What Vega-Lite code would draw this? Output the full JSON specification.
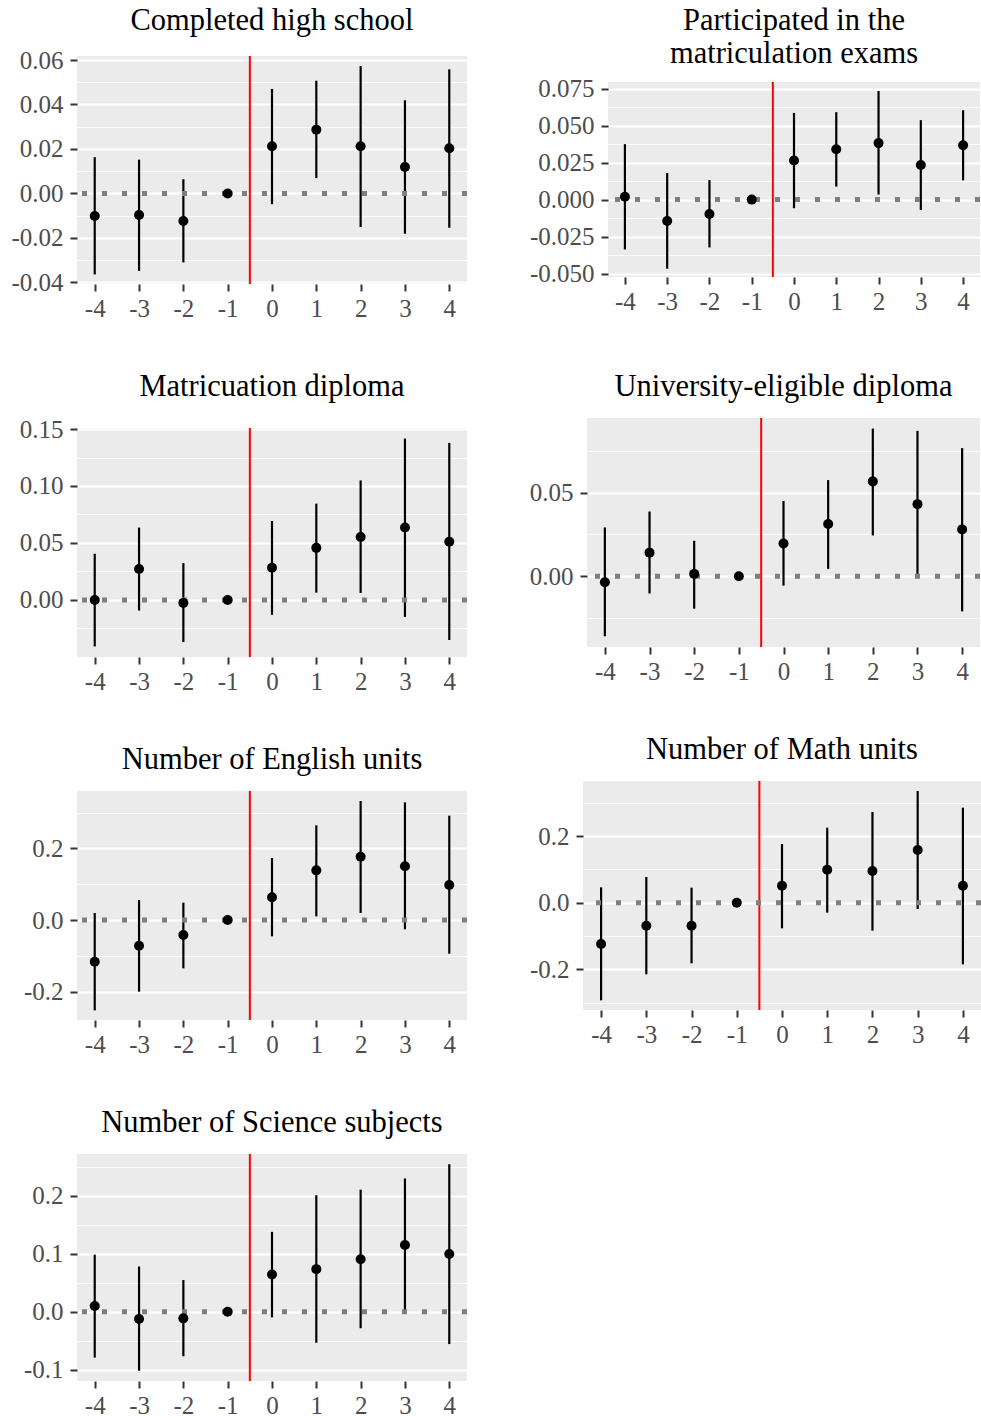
{
  "$schema": "https://vega.github.io/schema/vega-lite/v6.json",
  "padding": {"left": 10, "top": 5, "right": 0, "bottom": 0},
  "background": "white",
  "config": {
    "view": {"fill": "#EBEBEB", "stroke": null},
    "axis": {"domain": false, "labelFont": "Liberation Serif", "labelFontSize": 25, "labelColor": "#4D4D4D", "tickColor": "#333333", "tickWidth": 2, "tickSize": 7, "labelPadding": 7, "gridColor": "white", "title": null, "labelOverlap": false, "labelFlush": false, "labelBound": false, "tickCount": 100},
    "axisX": {"labelPadding": 5},
    "title": {"font": "Liberation Serif", "fontSize": 30.5, "fontWeight": "normal", "color": "black", "anchor": "middle", "frame": "group", "offset": 15, "lineHeight": 33}
  },
  "datasets": {
    "est": [
      {"outcome": "hs", "t": -4, "est": -0.0101, "lo": -0.0364, "hi": 0.0163},
      {"outcome": "hs", "t": -3, "est": -0.0097, "lo": -0.0348, "hi": 0.0152},
      {"outcome": "hs", "t": -2, "est": -0.0124, "lo": -0.031, "hi": 0.0064},
      {"outcome": "hs", "t": -1, "est": 0, "lo": 0, "hi": 0},
      {"outcome": "hs", "t": 0, "est": 0.0212, "lo": -0.0048, "hi": 0.047},
      {"outcome": "hs", "t": 1, "est": 0.0287, "lo": 0.0069, "hi": 0.0507},
      {"outcome": "hs", "t": 2, "est": 0.0212, "lo": -0.0151, "hi": 0.0573},
      {"outcome": "hs", "t": 3, "est": 0.0119, "lo": -0.0181, "hi": 0.0419},
      {"outcome": "hs", "t": 4, "est": 0.0203, "lo": -0.0154, "hi": 0.0558},
      {"outcome": "part", "t": -4, "est": 0.002, "lo": -0.0337, "hi": 0.0375},
      {"outcome": "part", "t": -3, "est": -0.0144, "lo": -0.0467, "hi": 0.018},
      {"outcome": "part", "t": -2, "est": -0.0097, "lo": -0.0323, "hi": 0.0132},
      {"outcome": "part", "t": -1, "est": 0, "lo": 0, "hi": 0},
      {"outcome": "part", "t": 0, "est": 0.0265, "lo": -0.0058, "hi": 0.0586},
      {"outcome": "part", "t": 1, "est": 0.0341, "lo": 0.0088, "hi": 0.0591},
      {"outcome": "part", "t": 2, "est": 0.0382, "lo": 0.0034, "hi": 0.0734},
      {"outcome": "part", "t": 3, "est": 0.0234, "lo": -0.007, "hi": 0.0537},
      {"outcome": "part", "t": 4, "est": 0.0368, "lo": 0.013, "hi": 0.0604},
      {"outcome": "mat", "t": -4, "est": 0, "lo": -0.0408, "hi": 0.0405},
      {"outcome": "mat", "t": -3, "est": 0.0271, "lo": -0.0093, "hi": 0.0635},
      {"outcome": "mat", "t": -2, "est": -0.0026, "lo": -0.037, "hi": 0.0323},
      {"outcome": "mat", "t": -1, "est": 0, "lo": 0, "hi": 0},
      {"outcome": "mat", "t": 0, "est": 0.0283, "lo": -0.0131, "hi": 0.0693},
      {"outcome": "mat", "t": 1, "est": 0.0457, "lo": 0.0064, "hi": 0.0845},
      {"outcome": "mat", "t": 2, "est": 0.0553, "lo": 0.0061, "hi": 0.1049},
      {"outcome": "mat", "t": 3, "est": 0.0635, "lo": -0.0149, "hi": 0.1416},
      {"outcome": "mat", "t": 4, "est": 0.051, "lo": -0.0352, "hi": 0.1378},
      {"outcome": "uni", "t": -4, "est": -0.0036, "lo": -0.0359, "hi": 0.0292},
      {"outcome": "uni", "t": -3, "est": 0.0141, "lo": -0.0103, "hi": 0.0387},
      {"outcome": "uni", "t": -2, "est": 0.0014, "lo": -0.0194, "hi": 0.0212},
      {"outcome": "uni", "t": -1, "est": 0, "lo": 0, "hi": 0},
      {"outcome": "uni", "t": 0, "est": 0.0196, "lo": -0.0056, "hi": 0.045},
      {"outcome": "uni", "t": 1, "est": 0.0312, "lo": 0.0044, "hi": 0.0575},
      {"outcome": "uni", "t": 2, "est": 0.0567, "lo": 0.0244, "hi": 0.0883},
      {"outcome": "uni", "t": 3, "est": 0.0431, "lo": -0.0008, "hi": 0.0869},
      {"outcome": "uni", "t": 4, "est": 0.028, "lo": -0.021, "hi": 0.0766},
      {"outcome": "eng", "t": -4, "est": -0.1163, "lo": -0.2521, "hi": 0.0195},
      {"outcome": "eng", "t": -3, "est": -0.0716, "lo": -0.2, "hi": 0.0558},
      {"outcome": "eng", "t": -2, "est": -0.0419, "lo": -0.1349, "hi": 0.0484},
      {"outcome": "eng", "t": -1, "est": 0, "lo": 0, "hi": 0},
      {"outcome": "eng", "t": 0, "est": 0.0633, "lo": -0.0456, "hi": 0.173},
      {"outcome": "eng", "t": 1, "est": 0.1386, "lo": 0.0102, "hi": 0.2642},
      {"outcome": "eng", "t": 2, "est": 0.1767, "lo": 0.0195, "hi": 0.3321},
      {"outcome": "eng", "t": 3, "est": 0.1498, "lo": -0.026, "hi": 0.3284},
      {"outcome": "eng", "t": 4, "est": 0.0977, "lo": -0.094, "hi": 0.2912},
      {"outcome": "math", "t": -4, "est": -0.124, "lo": -0.293, "hi": 0.046},
      {"outcome": "math", "t": -3, "est": -0.069, "lo": -0.215, "hi": 0.077},
      {"outcome": "math", "t": -2, "est": -0.069, "lo": -0.182, "hi": 0.045},
      {"outcome": "math", "t": -1, "est": 0, "lo": 0, "hi": 0},
      {"outcome": "math", "t": 0, "est": 0.051, "lo": -0.077, "hi": 0.176},
      {"outcome": "math", "t": 1, "est": 0.099, "lo": -0.03, "hi": 0.225},
      {"outcome": "math", "t": 2, "est": 0.095, "lo": -0.084, "hi": 0.272},
      {"outcome": "math", "t": 3, "est": 0.158, "lo": -0.019, "hi": 0.335},
      {"outcome": "math", "t": 4, "est": 0.051, "lo": -0.185, "hi": 0.285},
      {"outcome": "sci", "t": -4, "est": 0.0097, "lo": -0.079, "hi": 0.0983},
      {"outcome": "sci", "t": -3, "est": -0.0125, "lo": -0.1017, "hi": 0.0778},
      {"outcome": "sci", "t": -2, "est": -0.0114, "lo": -0.0767, "hi": 0.0545},
      {"outcome": "sci", "t": -1, "est": 0, "lo": 0, "hi": 0},
      {"outcome": "sci", "t": 0, "est": 0.0642, "lo": -0.0097, "hi": 0.1375},
      {"outcome": "sci", "t": 1, "est": 0.0733, "lo": -0.0534, "hi": 0.2006},
      {"outcome": "sci", "t": 2, "est": 0.0903, "lo": -0.0284, "hi": 0.2102},
      {"outcome": "sci", "t": 3, "est": 0.1148, "lo": 0.0006, "hi": 0.2295},
      {"outcome": "sci", "t": 4, "est": 0.0994, "lo": -0.0557, "hi": 0.254}
    ],
    "one": [{}]
  },
  "columns": 2,
  "align": "none",
  "spacing": {"row": 50, "column": 59},
  "concat": [
    {
      "spacing": -22,
      "vconcat": [
        {"title": {"text": "Completed high school", "offset": 0}, "width": 390, "height": 0, "data": {"name": "one"}, "mark": {"type": "text", "text": " "}, "encoding": {}},
        {
          "width": 390, "height": 228,
          "layer": [
            {"data": {"name": "one"}, "mark": {"type": "rule", "color": "#FF0000", "strokeWidth": 2}, "encoding": {"x": {"datum": -0.5, "type": "quantitative"}}},
            {"data": {"name": "est"}, "transform": [{"filter": "datum.outcome == 'hs'"}], "mark": {"type": "rule", "color": "black", "strokeWidth": 2.2},
             "encoding": {
               "x": {"field": "t", "type": "quantitative", "scale": {"domain": [-4.4, 4.4], "nice": false, "zero": false},
                     "axis": {"tickCount": 100, "labelOverlap": false, "values": [-4,-3.5,-3,-2.5,-2,-1.5,-1,-0.5,0,0.5,1,1.5,2,2.5,3,3.5,4], "labelExpr": "datum.value % 1 != 0 ? '' : replace(format(datum.value, 'd'), '\u2212', '-')", "tickOpacity": {"condition": {"test": "datum.value % 1 != 0", "value": 0}, "value": 1}, "gridWidth": {"condition": {"test": "datum.value % 1 != 0", "value": 0.9}, "value": 1.8}}},
               "y": {"field": "lo", "type": "quantitative", "scale": {"domain": [-0.0407, 0.0618], "nice": false, "zero": false},
                     "axis": {"tickCount": 100, "labelOverlap": false, "values": [-0.04,-0.03,-0.02,-0.01,0,0.01,0.02,0.03,0.04,0.05,0.06], "labelExpr": "abs(datum.value/0.02 - round(datum.value/0.02)) > 0.01 ? '' : replace(format(datum.value, '.2f'), '\u2212', '-')", "tickOpacity": {"condition": {"test": "abs(datum.value/0.02 - round(datum.value/0.02)) > 0.01", "value": 0}, "value": 1}, "gridWidth": {"condition": {"test": "abs(datum.value/0.02 - round(datum.value/0.02)) > 0.01", "value": 0.9}, "value": 1.8}}},
               "y2": {"field": "hi"}
             }},
            {"data": {"name": "one"}, "mark": {"type": "rule", "color": "#7F7F7F", "strokeWidth": 5, "strokeDash": [5, 15]}, "encoding": {"y": {"datum": 0, "type": "quantitative"}}},
            {"data": {"name": "est"}, "transform": [{"filter": "datum.outcome == 'hs'"}], "mark": {"type": "point", "filled": true, "color": "black", "size": 100, "opacity": 1},
             "encoding": {"x": {"field": "t", "type": "quantitative"}, "y": {"field": "est", "type": "quantitative"}}}
          ]
        }
      ]
    },
    {
      "spacing": -17,
      "vconcat": [
        {"title": {"text": "Participated in the", "offset": 0}, "width": 372, "height": 0, "data": {"name": "one"}, "mark": {"type": "text", "text": " "}, "encoding": {}},
        {
          "title": {"text": "matriculation exams", "offset": 7},
          "width": 372, "height": 195,
          "layer": [
            {"data": {"name": "one"}, "mark": {"type": "rule", "color": "#FF0000", "strokeWidth": 2}, "encoding": {"x": {"datum": -0.5, "type": "quantitative"}}},
            {"data": {"name": "est"}, "transform": [{"filter": "datum.outcome == 'part'"}], "mark": {"type": "rule", "color": "black", "strokeWidth": 2.2},
             "encoding": {
               "x": {"field": "t", "type": "quantitative", "scale": {"domain": [-4.4, 4.4], "nice": false, "zero": false},
                     "axis": {"tickCount": 100, "labelOverlap": false, "values": [-4,-3.5,-3,-2.5,-2,-1.5,-1,-0.5,0,0.5,1,1.5,2,2.5,3,3.5,4], "labelExpr": "datum.value % 1 != 0 ? '' : replace(format(datum.value, 'd'), '\u2212', '-')", "tickOpacity": {"condition": {"test": "datum.value % 1 != 0", "value": 0}, "value": 1}, "gridWidth": {"condition": {"test": "datum.value % 1 != 0", "value": 0.9}, "value": 1.8}}},
               "y": {"field": "lo", "type": "quantitative", "scale": {"domain": [-0.0523, 0.0795], "nice": false, "zero": false},
                     "axis": {"tickCount": 100, "labelOverlap": false, "values": [-0.05,-0.0375,-0.025,-0.0125,0,0.0125,0.025,0.0375,0.05,0.0625,0.075], "labelExpr": "abs(datum.value/0.025 - round(datum.value/0.025)) > 0.01 ? '' : replace(format(datum.value, '.3f'), '\u2212', '-')", "tickOpacity": {"condition": {"test": "abs(datum.value/0.025 - round(datum.value/0.025)) > 0.01", "value": 0}, "value": 1}, "gridWidth": {"condition": {"test": "abs(datum.value/0.025 - round(datum.value/0.025)) > 0.01", "value": 0.9}, "value": 1.8}}},
               "y2": {"field": "hi"}
             }},
            {"data": {"name": "one"}, "mark": {"type": "rule", "color": "#7F7F7F", "strokeWidth": 5, "strokeDash": [5, 15]}, "encoding": {"y": {"datum": 0, "type": "quantitative"}}},
            {"data": {"name": "est"}, "transform": [{"filter": "datum.outcome == 'part'"}], "mark": {"type": "point", "filled": true, "color": "black", "size": 100, "opacity": 1},
             "encoding": {"x": {"field": "t", "type": "quantitative"}, "y": {"field": "est", "type": "quantitative"}}}
          ]
        }
      ]
    },
        {
          "title": "Matricuation diploma",
          "width": 390, "height": 229,
          "layer": [
            {"data": {"name": "one"}, "mark": {"type": "rule", "color": "#FF0000", "strokeWidth": 2}, "encoding": {"x": {"datum": -0.5, "type": "quantitative"}}},
            {"data": {"name": "est"}, "transform": [{"filter": "datum.outcome == 'mat'"}], "mark": {"type": "rule", "color": "black", "strokeWidth": 2.2},
             "encoding": {
               "x": {"field": "t", "type": "quantitative", "scale": {"domain": [-4.4, 4.4], "nice": false, "zero": false},
                     "axis": {"tickCount": 100, "labelOverlap": false, "values": [-4,-3.5,-3,-2.5,-2,-1.5,-1,-0.5,0,0.5,1,1.5,2,2.5,3,3.5,4], "labelExpr": "datum.value % 1 != 0 ? '' : replace(format(datum.value, 'd'), '\u2212', '-')", "tickOpacity": {"condition": {"test": "datum.value % 1 != 0", "value": 0}, "value": 1}, "gridWidth": {"condition": {"test": "datum.value % 1 != 0", "value": 0.9}, "value": 1.8}}},
               "y": {"field": "lo", "type": "quantitative", "scale": {"domain": [-0.0501, 0.1509], "nice": false, "zero": false},
                     "axis": {"tickCount": 100, "labelOverlap": false, "values": [-0.025,0,0.025,0.05,0.075,0.1,0.125,0.15], "labelExpr": "abs(datum.value/0.05 - round(datum.value/0.05)) > 0.01 ? '' : replace(format(datum.value, '.2f'), '\u2212', '-')", "tickOpacity": {"condition": {"test": "abs(datum.value/0.05 - round(datum.value/0.05)) > 0.01", "value": 0}, "value": 1}, "gridWidth": {"condition": {"test": "abs(datum.value/0.05 - round(datum.value/0.05)) > 0.01", "value": 0.9}, "value": 1.8}}},
               "y2": {"field": "hi"}
             }},
            {"data": {"name": "one"}, "mark": {"type": "rule", "color": "#7F7F7F", "strokeWidth": 5, "strokeDash": [5, 15]}, "encoding": {"y": {"datum": 0, "type": "quantitative"}}},
            {"data": {"name": "est"}, "transform": [{"filter": "datum.outcome == 'mat'"}], "mark": {"type": "point", "filled": true, "color": "black", "size": 100, "opacity": 1},
             "encoding": {"x": {"field": "t", "type": "quantitative"}, "y": {"field": "est", "type": "quantitative"}}}
          ]
        },
        {
          "title": "University-eligible diploma",
          "width": 393, "height": 229,
          "layer": [
            {"data": {"name": "one"}, "mark": {"type": "rule", "color": "#FF0000", "strokeWidth": 2}, "encoding": {"x": {"datum": -0.5, "type": "quantitative"}}},
            {"data": {"name": "est"}, "transform": [{"filter": "datum.outcome == 'uni'"}], "mark": {"type": "rule", "color": "black", "strokeWidth": 2.2},
             "encoding": {
               "x": {"field": "t", "type": "quantitative", "scale": {"domain": [-4.4, 4.4], "nice": false, "zero": false},
                     "axis": {"tickCount": 100, "labelOverlap": false, "values": [-4,-3.5,-3,-2.5,-2,-1.5,-1,-0.5,0,0.5,1,1.5,2,2.5,3,3.5,4], "labelExpr": "datum.value % 1 != 0 ? '' : replace(format(datum.value, 'd'), '\u2212', '-')", "tickOpacity": {"condition": {"test": "datum.value % 1 != 0", "value": 0}, "value": 1}, "gridWidth": {"condition": {"test": "datum.value % 1 != 0", "value": 0.9}, "value": 1.8}}},
               "y": {"field": "lo", "type": "quantitative", "scale": {"domain": [-0.0423, 0.0946], "nice": false, "zero": false},
                     "axis": {"tickCount": 100, "labelOverlap": false, "values": [-0.025,0,0.025,0.05,0.075], "labelExpr": "abs(datum.value/0.05 - round(datum.value/0.05)) > 0.01 ? '' : replace(format(datum.value, '.2f'), '\u2212', '-')", "tickOpacity": {"condition": {"test": "abs(datum.value/0.05 - round(datum.value/0.05)) > 0.01", "value": 0}, "value": 1}, "gridWidth": {"condition": {"test": "abs(datum.value/0.05 - round(datum.value/0.05)) > 0.01", "value": 0.9}, "value": 1.8}}},
               "y2": {"field": "hi"}
             }},
            {"data": {"name": "one"}, "mark": {"type": "rule", "color": "#7F7F7F", "strokeWidth": 5, "strokeDash": [5, 15]}, "encoding": {"y": {"datum": 0, "type": "quantitative"}}},
            {"data": {"name": "est"}, "transform": [{"filter": "datum.outcome == 'uni'"}], "mark": {"type": "point", "filled": true, "color": "black", "size": 100, "opacity": 1},
             "encoding": {"x": {"field": "t", "type": "quantitative"}, "y": {"field": "est", "type": "quantitative"}}}
          ]
        },
        {
          "title": "Number of English units",
          "width": 390, "height": 229,
          "layer": [
            {"data": {"name": "one"}, "mark": {"type": "rule", "color": "#FF0000", "strokeWidth": 2}, "encoding": {"x": {"datum": -0.5, "type": "quantitative"}}},
            {"data": {"name": "est"}, "transform": [{"filter": "datum.outcome == 'eng'"}], "mark": {"type": "rule", "color": "black", "strokeWidth": 2.2},
             "encoding": {
               "x": {"field": "t", "type": "quantitative", "scale": {"domain": [-4.4, 4.4], "nice": false, "zero": false},
                     "axis": {"tickCount": 100, "labelOverlap": false, "values": [-4,-3.5,-3,-2.5,-2,-1.5,-1,-0.5,0,0.5,1,1.5,2,2.5,3,3.5,4], "labelExpr": "datum.value % 1 != 0 ? '' : replace(format(datum.value, 'd'), '\u2212', '-')", "tickOpacity": {"condition": {"test": "datum.value % 1 != 0", "value": 0}, "value": 1}, "gridWidth": {"condition": {"test": "datum.value % 1 != 0", "value": 0.9}, "value": 1.8}}},
               "y": {"field": "lo", "type": "quantitative", "scale": {"domain": [-0.279, 0.36], "nice": false, "zero": false},
                     "axis": {"tickCount": 100, "labelOverlap": false, "values": [-0.2,-0.1,0,0.1,0.2,0.3], "labelExpr": "abs(datum.value/0.2 - round(datum.value/0.2)) > 0.01 ? '' : replace(format(datum.value, '.1f'), '\u2212', '-')", "tickOpacity": {"condition": {"test": "abs(datum.value/0.2 - round(datum.value/0.2)) > 0.01", "value": 0}, "value": 1}, "gridWidth": {"condition": {"test": "abs(datum.value/0.2 - round(datum.value/0.2)) > 0.01", "value": 0.9}, "value": 1.8}}},
               "y2": {"field": "hi"}
             }},
            {"data": {"name": "one"}, "mark": {"type": "rule", "color": "#7F7F7F", "strokeWidth": 5, "strokeDash": [5, 15]}, "encoding": {"y": {"datum": 0, "type": "quantitative"}}},
            {"data": {"name": "est"}, "transform": [{"filter": "datum.outcome == 'eng'"}], "mark": {"type": "point", "filled": true, "color": "black", "size": 100, "opacity": 1},
             "encoding": {"x": {"field": "t", "type": "quantitative"}, "y": {"field": "est", "type": "quantitative"}}}
          ]
        },
        {
          "title": "Number of Math units",
          "width": 398, "height": 229,
          "layer": [
            {"data": {"name": "one"}, "mark": {"type": "rule", "color": "#FF0000", "strokeWidth": 2}, "encoding": {"x": {"datum": -0.5, "type": "quantitative"}}},
            {"data": {"name": "est"}, "transform": [{"filter": "datum.outcome == 'math'"}], "mark": {"type": "rule", "color": "black", "strokeWidth": 2.2},
             "encoding": {
               "x": {"field": "t", "type": "quantitative", "scale": {"domain": [-4.4, 4.4], "nice": false, "zero": false},
                     "axis": {"tickCount": 100, "labelOverlap": false, "values": [-4,-3.5,-3,-2.5,-2,-1.5,-1,-0.5,0,0.5,1,1.5,2,2.5,3,3.5,4], "labelExpr": "datum.value % 1 != 0 ? '' : replace(format(datum.value, 'd'), '\u2212', '-')", "tickOpacity": {"condition": {"test": "datum.value % 1 != 0", "value": 0}, "value": 1}, "gridWidth": {"condition": {"test": "datum.value % 1 != 0", "value": 0.9}, "value": 1.8}}},
               "y": {"field": "lo", "type": "quantitative", "scale": {"domain": [-0.322, 0.365], "nice": false, "zero": false},
                     "axis": {"tickCount": 100, "labelOverlap": false, "values": [-0.3,-0.2,-0.1,0,0.1,0.2,0.3], "labelExpr": "abs(datum.value/0.2 - round(datum.value/0.2)) > 0.01 ? '' : replace(format(datum.value, '.1f'), '\u2212', '-')", "tickOpacity": {"condition": {"test": "abs(datum.value/0.2 - round(datum.value/0.2)) > 0.01", "value": 0}, "value": 1}, "gridWidth": {"condition": {"test": "abs(datum.value/0.2 - round(datum.value/0.2)) > 0.01", "value": 0.9}, "value": 1.8}}},
               "y2": {"field": "hi"}
             }},
            {"data": {"name": "one"}, "mark": {"type": "rule", "color": "#7F7F7F", "strokeWidth": 5, "strokeDash": [5, 15]}, "encoding": {"y": {"datum": 0, "type": "quantitative"}}},
            {"data": {"name": "est"}, "transform": [{"filter": "datum.outcome == 'math'"}], "mark": {"type": "point", "filled": true, "color": "black", "size": 100, "opacity": 1},
             "encoding": {"x": {"field": "t", "type": "quantitative"}, "y": {"field": "est", "type": "quantitative"}}}
          ]
        },
        {
          "title": "Number of Science subjects",
          "width": 390, "height": 227,
          "layer": [
            {"data": {"name": "one"}, "mark": {"type": "rule", "color": "#FF0000", "strokeWidth": 2}, "encoding": {"x": {"datum": -0.5, "type": "quantitative"}}},
            {"data": {"name": "est"}, "transform": [{"filter": "datum.outcome == 'sci'"}], "mark": {"type": "rule", "color": "black", "strokeWidth": 2.2},
             "encoding": {
               "x": {"field": "t", "type": "quantitative", "scale": {"domain": [-4.4, 4.4], "nice": false, "zero": false},
                     "axis": {"tickCount": 100, "labelOverlap": false, "values": [-4,-3.5,-3,-2.5,-2,-1.5,-1,-0.5,0,0.5,1,1.5,2,2.5,3,3.5,4], "labelExpr": "datum.value % 1 != 0 ? '' : replace(format(datum.value, 'd'), '\u2212', '-')", "tickOpacity": {"condition": {"test": "datum.value % 1 != 0", "value": 0}, "value": 1}, "gridWidth": {"condition": {"test": "datum.value % 1 != 0", "value": 0.9}, "value": 1.8}}},
               "y": {"field": "lo", "type": "quantitative", "scale": {"domain": [-0.1193, 0.2716], "nice": false, "zero": false},
                     "axis": {"tickCount": 100, "labelOverlap": false, "values": [-0.1,-0.05,0,0.05,0.1,0.15,0.2,0.25], "labelExpr": "abs(datum.value/0.1 - round(datum.value/0.1)) > 0.01 ? '' : replace(format(datum.value, '.1f'), '\u2212', '-')", "tickOpacity": {"condition": {"test": "abs(datum.value/0.1 - round(datum.value/0.1)) > 0.01", "value": 0}, "value": 1}, "gridWidth": {"condition": {"test": "abs(datum.value/0.1 - round(datum.value/0.1)) > 0.01", "value": 0.9}, "value": 1.8}}},
               "y2": {"field": "hi"}
             }},
            {"data": {"name": "one"}, "mark": {"type": "rule", "color": "#7F7F7F", "strokeWidth": 5, "strokeDash": [5, 15]}, "encoding": {"y": {"datum": 0, "type": "quantitative"}}},
            {"data": {"name": "est"}, "transform": [{"filter": "datum.outcome == 'sci'"}], "mark": {"type": "point", "filled": true, "color": "black", "size": 100, "opacity": 1},
             "encoding": {"x": {"field": "t", "type": "quantitative"}, "y": {"field": "est", "type": "quantitative"}}}
          ]
        }
  ]
}
